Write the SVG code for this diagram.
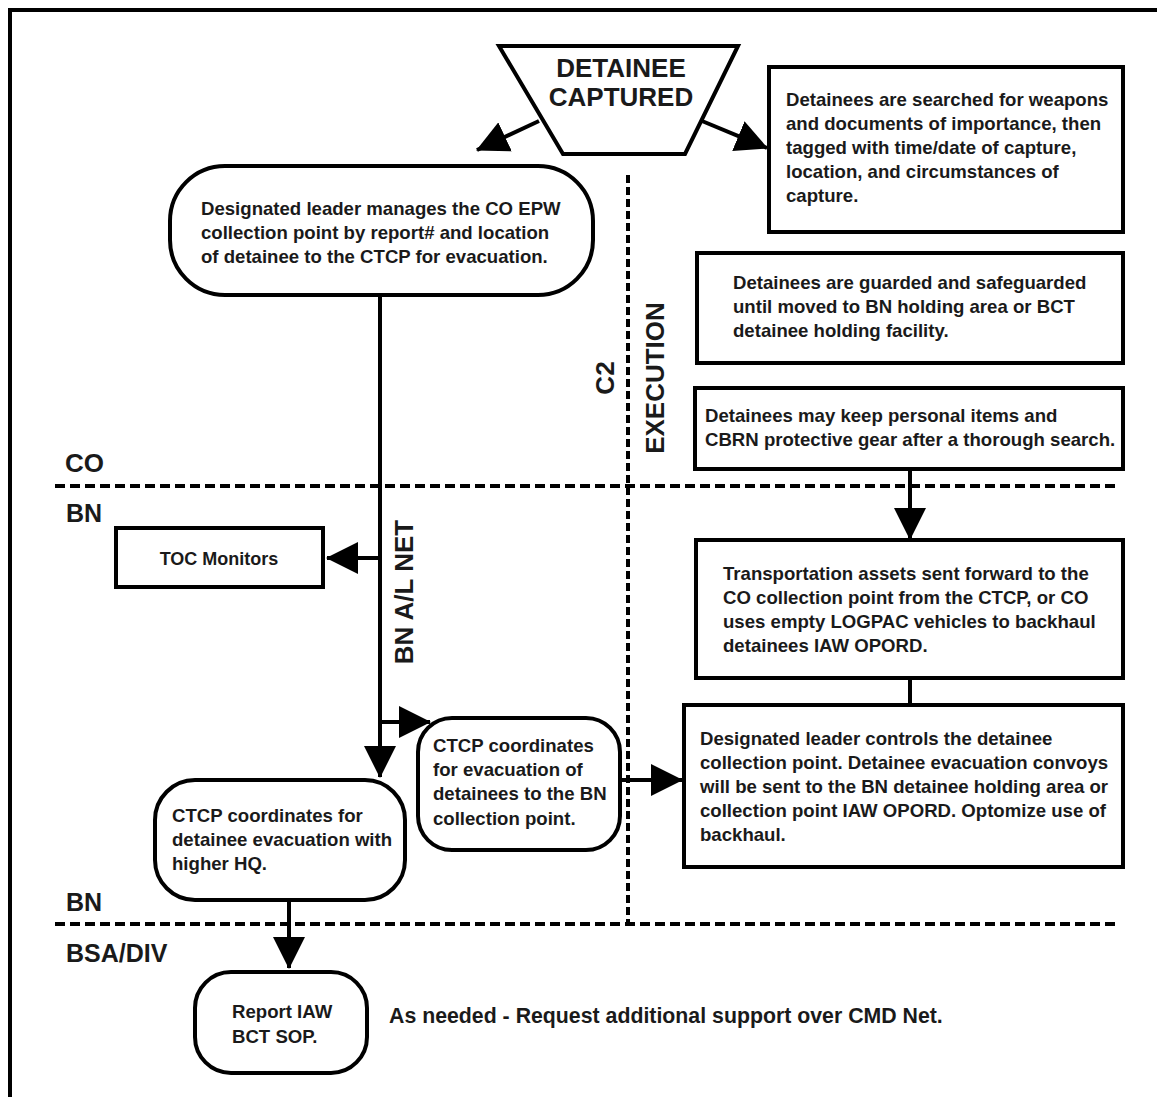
<svg xmlns="http://www.w3.org/2000/svg" width="1157" height="1097" viewBox="0 0 1157 1097">
<style>
.box{fill:#fff;stroke:#000;stroke-width:4}
.t{font-family:"Liberation Sans",Arial,sans-serif;font-weight:bold;font-size:18.6px;fill:#1a1a1a}
.big{font-family:"Liberation Sans",Arial,sans-serif;font-weight:bold;font-size:26px;fill:#1a1a1a}
.ln{stroke:#000;stroke-width:4;fill:none}
.dash{stroke:#000;stroke-width:4;fill:none;stroke-dasharray:10 5}
.vdash{stroke:#000;stroke-width:4;fill:none;stroke-dasharray:8 4}
</style>
<defs>
<marker id="ah" markerUnits="userSpaceOnUse" viewBox="0 0 32 32" markerWidth="32" markerHeight="32" refX="31" refY="16" orient="auto">
<path d="M0,0 L32,16 L0,32 z" fill="#000"/>
</marker>
</defs>
<rect width="1157" height="1097" fill="#fff"/>
<path d="M10 1097 V10 H1157" fill="none" stroke="#000" stroke-width="4"/>

<g id="lanes">
<path class="dash" d="M55 486 H1120"/>
<path class="dash" d="M55 924 H1120"/>
<path class="vdash" d="M628 175 V924"/>
<text class="big" x="65" y="472">CO</text>
<text class="big" x="66" y="522" style="font-size:25px">BN</text>
<text class="big" x="66" y="911" style="font-size:25px">BN</text>
<text class="big" x="66" y="962" style="font-size:25px">BSA/DIV</text>
<text class="big" transform="translate(614 378) rotate(-90)" text-anchor="middle">C2</text>
<text class="big" transform="translate(664 378) rotate(-90)" text-anchor="middle">EXECUTION</text>
<text class="big" transform="translate(413 592) rotate(-90)" text-anchor="middle">BN A/L NET</text>
</g>

<g id="connectors">
<path class="ln" d="M539 121 L477 150" marker-end="url(#ah)"/>
<path class="ln" d="M702 121 L767 148" marker-end="url(#ah)"/>
<path class="ln" d="M380 295 V777" marker-end="url(#ah)"/>
<path class="ln" d="M380 558 H327" marker-end="url(#ah)"/>
<path class="ln" d="M380 722 H430" marker-end="url(#ah)"/>
<path class="ln" d="M620 780 H682" marker-end="url(#ah)"/>
<path class="ln" d="M910 469 V539" marker-end="url(#ah)"/>
<path class="ln" d="M910 678 V705"/>
<path class="ln" d="M289 900 V968" marker-end="url(#ah)"/>
</g>

<g id="captured">
<polygon class="box" points="499,46 738,46 685,154 563,154"/>
<text class="big" x="621" y="77" text-anchor="middle">DETAINEE</text>
<text class="big" x="621" y="106" text-anchor="middle">CAPTURED</text>
</g>

<g id="searched">
<rect class="box" x="769" y="67" width="354" height="165"/>
<text class="t" x="786" y="106">Detainees are searched for weapons</text>
<text class="t" x="786" y="130">and documents of importance, then</text>
<text class="t" x="786" y="154">tagged with time/date of capture,</text>
<text class="t" x="786" y="178">location, and circumstances of</text>
<text class="t" x="786" y="202">capture.</text>
</g>

<g id="guarded">
<rect class="box" x="697" y="253" width="426" height="110"/>
<text class="t" x="733" y="289">Detainees are guarded and safeguarded</text>
<text class="t" x="733" y="313">until moved to BN holding area or BCT</text>
<text class="t" x="733" y="337">detainee holding facility.</text>
</g>

<g id="personal">
<rect class="box" x="695" y="388" width="428" height="81"/>
<text class="t" x="705" y="422">Detainees may keep personal items and</text>
<text class="t" x="705" y="446">CBRN protective gear after a thorough search.</text>
</g>

<g id="transport">
<rect class="box" x="696" y="540" width="427" height="138"/>
<text class="t" x="723" y="580">Transportation assets sent forward to the</text>
<text class="t" x="723" y="604">CO collection point from the CTCP, or CO</text>
<text class="t" x="723" y="628">uses empty LOGPAC vehicles to backhaul</text>
<text class="t" x="723" y="652">detainees IAW OPORD.</text>
</g>

<g id="controls">
<rect class="box" x="684" y="705" width="439" height="162"/>
<text class="t" x="700" y="745">Designated leader controls the detainee</text>
<text class="t" x="700" y="769">collection point. Detainee evacuation convoys</text>
<text class="t" x="700" y="793">will be sent to the BN detainee holding area or</text>
<text class="t" x="700" y="817">collection point IAW OPORD. Optomize use of</text>
<text class="t" x="700" y="841">backhaul.</text>
</g>

<g id="manages">
<rect class="box" x="170" y="166" width="423" height="129" rx="55" ry="55"/>
<text class="t" x="201" y="215">Designated leader manages the CO EPW</text>
<text class="t" x="201" y="239">collection point by report# and location</text>
<text class="t" x="201" y="263">of detainee to the CTCP for evacuation.</text>
</g>

<g id="toc">
<rect class="box" x="116" y="528" width="207" height="59"/>
<text class="t" x="219" y="565" text-anchor="middle" style="font-size:18px">TOC Monitors</text>
</g>

<g id="ctcp-bn">
<rect class="box" x="418" y="718" width="202" height="132" rx="34" ry="34"/>
<text class="t" x="433" y="752">CTCP coordinates</text>
<text class="t" x="433" y="776">for evacuation of</text>
<text class="t" x="433" y="800">detainees to the BN</text>
<text class="t" x="433" y="825">collection point.</text>
</g>

<g id="ctcp-hq">
<rect class="box" x="155" y="780" width="250" height="120" rx="40" ry="40"/>
<text class="t" x="172" y="822">CTCP coordinates for</text>
<text class="t" x="172" y="846">detainee evacuation with</text>
<text class="t" x="172" y="870">higher HQ.</text>
</g>

<g id="report">
<rect class="box" x="195" y="972" width="172" height="101" rx="36" ry="36"/>
<text class="t" x="232" y="1018">Report IAW</text>
<text class="t" x="232" y="1043">BCT SOP.</text>
</g>

<g id="note">
<text class="t" x="389" y="1023" style="font-size:21.3px">As needed - Request additional support over CMD Net.</text>
</g>
</svg>
